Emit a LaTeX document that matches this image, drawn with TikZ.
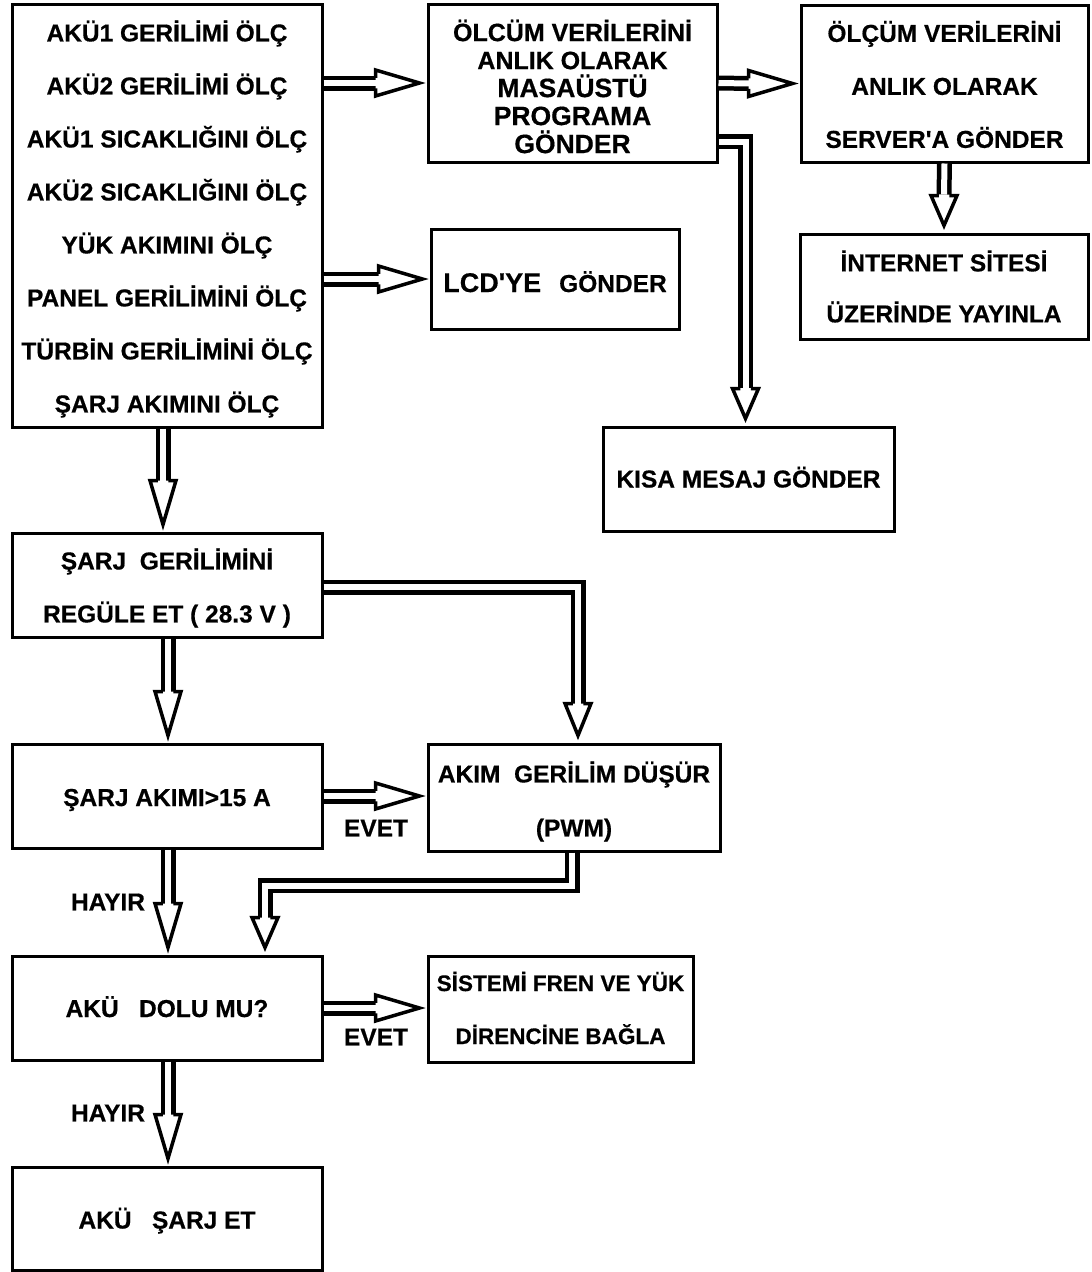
\documentclass[tikz,border=0pt]{standalone}
\usepackage{fontspec}
\newfontfamily\lib{Liberation Sans}[BoldFeatures={FakeBold=0.5}]
\usetikzlibrary{calc}
\tikzset{
  pics/ahead/.style={code={
    \fill[white] (-7,0) -- ({-7-#1},13) -- ({-7-#1},-13) -- cycle;
    \draw[line width=3.5pt, line join=miter] ({-7-#1},5.25) -- ({-7-#1},13) -- (-7,0) -- ({-7-#1},-13) -- ({-7-#1},-5.25);
  }}
}
\begin{document}
\begin{tikzpicture}[x=1pt,y=-1pt,
  box/.style={draw, line width=3pt, inner sep=0pt, align=center, text height=20pt, text depth=0pt,
              font=\lib\bfseries\fontsize{24.5}{53}\selectfont},
  txt/.style={inner sep=0pt, align=center, font=\lib\bfseries\fontsize{24.5}{53}\selectfont},
  shaft/.style={draw, double, line width=4.5pt, double distance=6pt, line join=miter},
  lbl/.style={font=\lib\bfseries\fontsize{24.5}{28}\selectfont, inner sep=0pt}
]
\useasboundingbox[fill=white] (0,0) rectangle (1092,1272);

\node[box, minimum width=310pt, minimum height=423pt] (A) at (167,215.5) {};
\node[txt] (At) at ($(A.center)+(0,3.5)$)
 {AKÜ1 GERİLİMİ ÖLÇ\\AKÜ2 GERİLİMİ ÖLÇ\\AKÜ1 SICAKLIĞINI ÖLÇ\\AKÜ2 SICAKLIĞINI ÖLÇ\\YÜK AKIMINI ÖLÇ\\PANEL GERİLİMİNİ ÖLÇ\\TÜRBİN GERİLİMİNİ ÖLÇ\\ŞARJ AKIMINI ÖLÇ};
\node[box, minimum width=289pt, minimum height=158pt] (B) at (572.5,83) {};
\node[txt, font=\lib\bfseries\fontsize{25}{28}\selectfont] (Bt) at ($(B.center)+(0,3.5)$)
 {ÖLCÜM VERİLERİNİ\\ANLIK OLARAK\\{\fontsize{26.5}{28}\selectfont MASAÜSTÜ}\\{\fontsize{26.5}{28}\selectfont PROGRAMA}\\{\fontsize{26.5}{28}\selectfont GÖNDER}};
\node[box, minimum width=287pt, minimum height=157pt] (C) at (944.5,83.5) {};
\node[txt] (Ct) at ($(C.center)+(0,1)$)
 {ÖLÇÜM VERİLERİNİ\\ANLIK OLARAK\\SERVER'A GÖNDER};
\node[box, minimum width=288pt, minimum height=105pt] (D) at (944,286.5) {};
\node[txt, font=\lib\bfseries\fontsize{24.5}{51}\selectfont] (Dt) at (D.center)
 {İNTERNET SİTESİ\\ÜZERİNDE YAYINLA};
\node[box, minimum width=248pt, minimum height=100pt, text height=26pt] (E) at (555,279)
 {{\fontsize{27}{30}\selectfont LCD'YE}\hspace{18pt}GÖNDER};
\node[box, minimum width=291pt, minimum height=104pt, text height=17pt] (F) at (748.5,479) {KISA MESAJ GÖNDER};
\node[box, minimum width=310pt, minimum height=104pt] (G) at (167,585) {};
\node[txt] (Gt) at ($(G.center)+(0,3)$)
 {ŞARJ\ \ GERİLİMİNİ\\REGÜLE ET ( 28.3 V )};
\node[box, minimum width=310pt, minimum height=104pt] (H) at (167,796) {ŞARJ AKIMI>15 A};
\node[box, minimum width=292pt, minimum height=107pt] (I) at (574,797.5) {};
\node[txt, font=\lib\bfseries\fontsize{24.5}{54}\selectfont] (It) at ($(I.center)+(0,4)$)
 {AKIM\ \ GERİLİM DÜŞÜR\\(PWM)};
\node[box, minimum width=310pt, minimum height=104pt, text height=18pt] (J) at (167,1008) {AKÜ\ \ \ DOLU MU?};
\node[box, minimum width=265pt, minimum height=106pt] (K) at (560.5,1009) {};
\node[txt, font=\lib\bfseries\fontsize{22.5}{53}\selectfont] (Kt) at ($(K.center)+(0,-1)$)
 {SİSTEMİ FREN VE YÜK\\DİRENCİNE BAĞLA};
\node[box, minimum width=310pt, minimum height=103pt] (L) at (167,1218.5) {AKÜ\ \ \ ŞARJ ET};

% A -> B
\draw[shaft] (A.east |- B.west) -- ($(B.west)+(-50,0)$);
\path (B.west) pic {ahead=44};
% B -> C
\draw[shaft] (B.east) -- ($(C.west)+(-50,0)$);
\path (C.west) pic {ahead=44};
% B -> F
\draw[shaft] ($(B.south east)+(0,-22)$) -| ($(F.north)+(-3,-38)$);
\path ($(F.north)+(-3,0)$) pic[rotate=-90] {ahead=30};
% A -> E
\draw[shaft] (A.east |- E.west) -- ($(E.west)+(-50,0)$);
\path (E.west) pic {ahead=44};
% C -> D
\draw[shaft] (C.south) -- ($(D.north)+(0,-38)$);
\path (D.north) pic[rotate=-90] {ahead=30};
% A -> G
\draw[shaft] ($(A.south)+(-4,0)$) -- ($(G.north)+(-4,-50)$);
\path ($(G.north)+(-4,0)$) pic[rotate=-90] {ahead=44};
% G -> I
\draw[shaft] ($(G.east)+(0,2)$) -| ($(I.north)+(4,-38)$);
\path ($(I.north)+(4,0)$) pic[rotate=-90] {ahead=32};
% G -> H
\draw[shaft] ($(G.south)+(1,0)$) -- ($(H.north)+(1,-50)$);
\path ($(H.north)+(1,0)$) pic[rotate=-90] {ahead=44};
% H -> I
\draw[shaft] (H.east) -- ($(I.west |- H.east)+(-50,0)$);
\path (I.west |- H.east) pic {ahead=44};
\node[lbl] (e1) at (376,828) {EVET};
% I -> J
\draw[shaft] ($(I.south)+(-2,0)$) |- ($(J.north)+(98,-69)$) -- ($(J.north)+(98,-36)$);
\path ($(J.north)+(98,0)$) pic[rotate=-90] {ahead=30};
% H -> J
\draw[shaft] ($(H.south)+(1,0)$) -- ($(J.north)+(1,-50)$);
\path ($(J.north)+(1,0)$) pic[rotate=-90] {ahead=44};
\node[lbl] (h1) at (108,902) {HAYIR};
% J -> K
\draw[shaft] (J.east) -- ($(K.west |- J.east)+(-50,0)$);
\path (K.west |- J.east) pic {ahead=44};
\node[lbl] (e2) at (376,1037) {EVET};
% J -> L
\draw[shaft] ($(J.south)+(1,0)$) -- ($(L.north)+(1,-50)$);
\path ($(L.north)+(1,0)$) pic[rotate=-90] {ahead=44};
\node[lbl] (h2) at (108,1113) {HAYIR};
\end{tikzpicture}
\end{document}
